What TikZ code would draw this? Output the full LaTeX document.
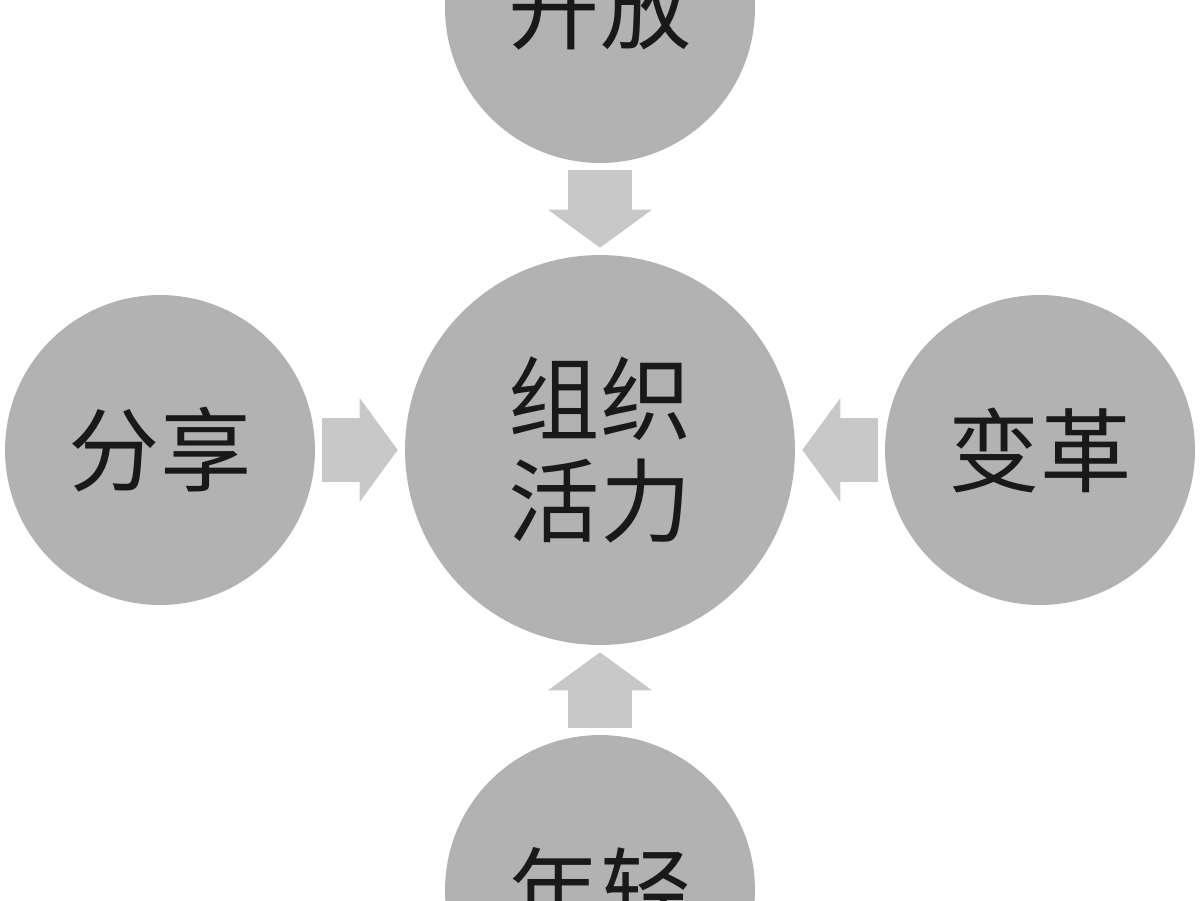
\documentclass[tikz,border=0pt]{standalone}
\usepackage{fontspec}
\newfontfamily\cjk{Noto Sans CJK SC}
\usetikzlibrary{arrows.meta}

\definecolor{ballgray}{RGB}{178,178,178}
\definecolor{arrowgray}{RGB}{200,200,200}

\begin{document}
\begin{tikzpicture}[x=0.02cm, y=-0.02cm,
  ball/.style={circle, fill=ballgray, draw=none, inner sep=0pt,
    align=center, text=black!90, font=\cjk\fontsize{52}{58}\selectfont},
  bigball/.style={ball, minimum size=7.8cm},
  smallball/.style={ball, minimum size=6.2cm},
  push/.style={draw=arrowgray, line width=1.28cm, shorten <=0.14cm, shorten >=0.14cm,
    -{Triangle[width=2.08cm, length=0.76cm, line width=0pt]}}]

\useasboundingbox (0,0) rectangle (1200,900);

% Centre
\node[bigball] (huoli) at (600,450) {组织\\活力};

% Outer circles
\node[smallball] (kaifang) at (600,8) {开放};
\node[smallball] (fenxiang) at (160,450) {分享};
\node[smallball] (biange) at (1040,450) {变革};
\node[smallball] (nianqing) at (600,890) {年轻};

% Arrows into the centre
\draw[push] (kaifang) -- (huoli);
\draw[push] (fenxiang) -- (huoli);
\draw[push] (biange) -- (huoli);
\draw[push] (nianqing) -- (huoli);
\end{tikzpicture}
\end{document}
